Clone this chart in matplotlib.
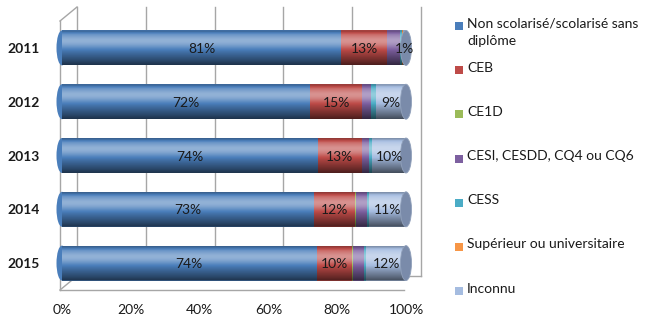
import numpy as np
import matplotlib
matplotlib.use("Agg")
import matplotlib.pyplot as plt
from matplotlib.patches import Ellipse, PathPatch, Rectangle
from matplotlib.path import Path
from matplotlib.transforms import offset_copy

plt.rcParams['font.family'] = ['Lato', 'DejaVu Sans']

years = ["2011", "2012", "2013", "2014", "2015"]
categories = ["Non scolarisé/scolarisé sans\ndiplôme", "CEB", "CE1D",
              "CESI, CESDD, CQ4 ou CQ6", "CESS", "Supérieur ou universitaire", "Inconnu"]
colors = ["#4A7EBB", "#BE4B48", "#9BBB59", "#7D60A0", "#4BACC6", "#F79646", "#A5BCE0"]

non_scolarise = [81.2, 72.2, 74.3, 73.3, 74.0]
ceb           = [13.2, 15.0, 12.9, 12.0, 10.3]
ce1d          = [0.1, 0.1, 0.1, 0.1, 0.4]
cesi          = [3.8, 2.6, 1.8, 3.3, 3.2]
cess          = [0.6, 1.3, 1.0, 0.5, 0.4]
superieur     = [0.1, 0.2, 0.1, 0.1, 0.1]
inconnu       = [1.0, 8.6, 9.8, 10.7, 11.6]
series = [non_scolarise, ceb, ce1d, cesi, cess, superieur, inconnu]
labelled = [0, 1, 6]

xticks = [0, 20, 40, 60, 80, 100]
xticklabels = ["0%", "20%", "40%", "60%", "80%", "100%"]

W, H = 654, 318
fig = plt.figure(figsize=(W / 100, H / 100), dpi=100)
ax = fig.add_axes([62 / W, 1 - 290 / H, 344 / W, 269 / H])

y = np.arange(len(years))
bh = 0.65
rx = 1.6
frame_c = "#A6A6A6"

# 3D frame: back wall gridlines & floor
back = offset_copy(ax.get_xaxis_transform(), fig=fig, x=15, y=14, units='dots')
front = offset_copy(ax.get_xaxis_transform(), fig=fig, x=-2, y=0, units='dots')
for xt in xticks:
    ax.plot([xt, xt], [0, 1], color=frame_c, lw=1, transform=back, clip_on=False, zorder=0)
ax.plot([0, 100], [0, 0], color=frame_c, lw=1, transform=front, clip_on=False, zorder=0)
ax.plot([0, 0], [0, 1], color=frame_c, lw=1, transform=front, clip_on=False, zorder=0)
ax.plot([0, 100], [0, 0], color=frame_c, lw=1, transform=back, clip_on=False, zorder=0)
for xt in xticks:
    p0 = front.transform((xt, 0))
    p1 = back.transform((xt, 0))
    ax.plot([p0[0], p1[0]], [p0[1], p1[1]], color=frame_c, lw=1, transform=None,
            clip_on=False, zorder=0)
p0 = front.transform((0, 1)); p1 = back.transform((0, 1))
ax.plot([p0[0], p1[0]], [p0[1], p1[1]], color=frame_c, lw=1, transform=None, clip_on=False, zorder=0)

# shading profile (cylinder look)
t = np.linspace(0, 1, 64)
s = 0.40 * np.exp(-((t - 0.3) / 0.2) ** 2) - 0.6 * np.clip((t - 0.45) / 0.55, 0, 1) ** 1.3 \
    - 0.3 * np.clip((0.12 - t) / 0.12, 0, 1)
shade = np.zeros((len(t), 1, 4))
shade[:, 0, :3] = np.where(s[:, None] > 0, 1.0, 0.0)
shade[:, 0, 3] = np.abs(s)

th_l = np.linspace(np.pi / 2, 3 * np.pi / 2, 40)
th_r = np.linspace(-np.pi / 2, np.pi / 2, 40)

for i in range(len(years)):
    total = sum(sr[i] for sr in series)
    ax.add_patch(Ellipse((0, y[i]), 2 * rx, bh, color=colors[0], zorder=1.9, lw=0, clip_on=False))
    left = 0.0
    for k, sr in enumerate(series):
        ax.barh(y[i], sr[i], left=left, height=bh, color=colors[k], lw=0, zorder=2)
        if k in labelled:
            cx = left + sr[i] / 2
            ax.text(cx, y[i] + 0.02, f"{round(sr[i])}%", ha='center', va='center',
                    fontsize=10, color="#1A1A1A", zorder=5)
        left += sr[i]
    xs = np.concatenate([rx * np.cos(th_l), total + rx * np.cos(th_r)])
    ys = np.concatenate([y[i] - (bh / 2) * np.sin(th_l), y[i] - (bh / 2) * np.sin(th_r)])
    pth = Path(np.column_stack([xs, ys]), closed=False)
    clip = PathPatch(pth, transform=ax.transData, facecolor='none', edgecolor='none')
    im = ax.imshow(shade, extent=(-rx, total + rx, y[i] + bh / 2, y[i] - bh / 2),
                   aspect='auto', zorder=2.5, interpolation='bilinear')
    im.set_clip_path(clip)
    im.set_clip_box(None)
    # right cap
    cap = Ellipse((total, y[i]), 2 * rx, bh, facecolor="#7A8BAA",
                  edgecolor="#90A0BA", lw=0.6, zorder=3, clip_on=False)
    ax.add_patch(cap)

ax.set_xlim(0, 100)
ax.set_ylim(len(years) - 0.5, -0.5)
ax.set_xticks(xticks)
ax.set_xticklabels(xticklabels, fontsize=10, color="#1A1A1A")
ax.set_yticks(y)
ax.set_yticklabels(years, fontsize=10, fontweight='bold', color="#1A1A1A")
ax.tick_params(axis='both', length=0)
ax.tick_params(axis='x', pad=10)
ax.tick_params(axis='y', pad=16)
for sp in ax.spines.values():
    sp.set_visible(False)
ax.set_facecolor('none')

# legend (manual)
ly0, dly = 26, 44.2
for k, (lab, col) in enumerate(zip(categories, colors)):
    yy = ly0 + k * dly
    fig.patches.append(Rectangle((455 / W, 1 - (yy + 4) / H), 8 / W, 8 / H,
                                 transform=fig.transFigure, facecolor=col, edgecolor='none'))
    fig.text(467 / W, 1 - (yy - 8.5) / H, lab, ha='left', va='top', fontsize=10,
             color="#1A1A1A", linespacing=1.55)

fig.savefig("out.png", dpi=100)
